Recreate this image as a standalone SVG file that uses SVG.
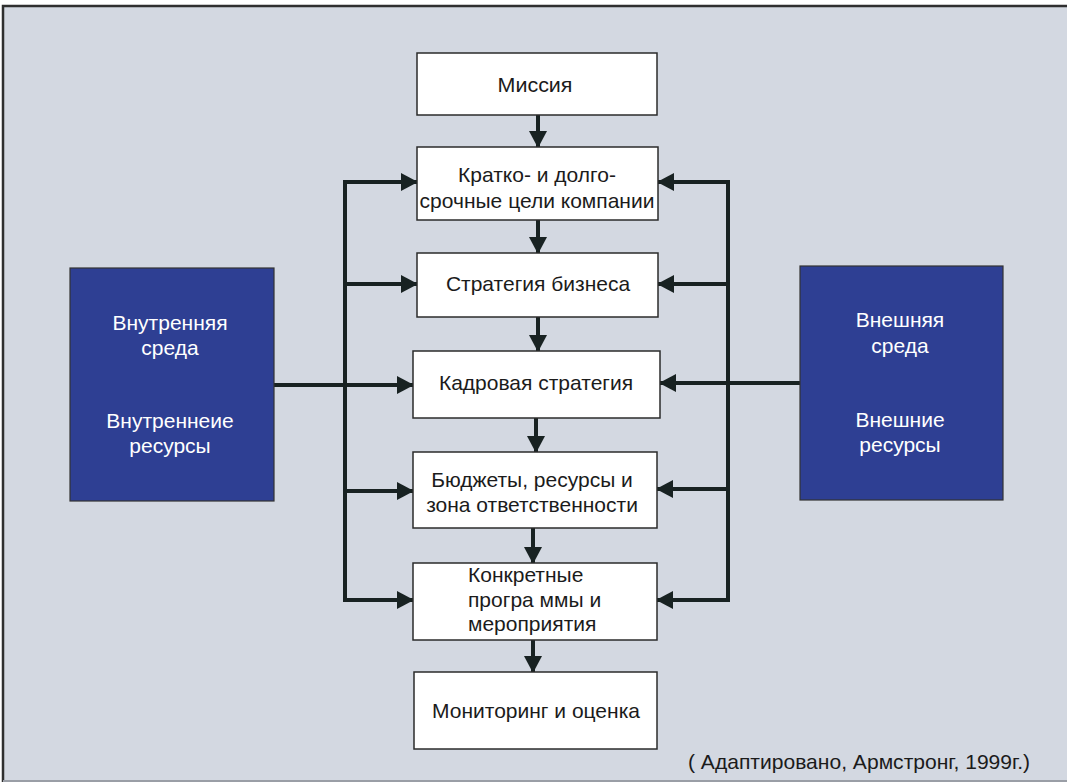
<svg xmlns="http://www.w3.org/2000/svg" width="1067" height="783" viewBox="0 0 1067 783">
<style>
.box{fill:#ffffff;stroke:#2b2b2b;stroke-width:1.5}
.env{fill:#2e3f93;stroke:#333;stroke-width:1.2}
.t{font-family:"Liberation Sans",Arial,sans-serif;font-size:21px;fill:#1b1b1b;text-anchor:middle}
.w{font-family:"Liberation Sans",Arial,sans-serif;font-size:21px;fill:#ffffff;text-anchor:middle}
.c{stroke:#182222;stroke-width:4;fill:none}
</style>
<defs>
<marker id="ah" markerUnits="userSpaceOnUse" markerWidth="17" markerHeight="18" refX="16" refY="9" orient="auto">
<path d="M0,0 L17,9 L0,18 Z" fill="#182222"/>
</marker>
</defs>
<rect x="3" y="6" width="1070" height="775" fill="#d3d8e1"/>
<path d="M3,782 V6 H1067" fill="none" stroke="#2f2f2f" stroke-width="2.5"/>
<path d="M3,781 H1067" fill="none" stroke="#9a9ea6" stroke-width="2"/>
<g id="connectors">
<path class="c" d="M538,115 V147" marker-end="url(#ah)"/>
<path class="c" d="M538,220 V253" marker-end="url(#ah)"/>
<path class="c" d="M538,317 V351" marker-end="url(#ah)"/>
<path class="c" d="M536,418 V452" marker-end="url(#ah)"/>
<path class="c" d="M533,528 V563" marker-end="url(#ah)"/>
<path class="c" d="M533,640 V672" marker-end="url(#ah)"/>
<path class="c" d="M345,180 V600"/>
<path class="c" d="M343,182 H417" marker-end="url(#ah)"/>
<path class="c" d="M345,284 H417" marker-end="url(#ah)"/>
<path class="c" d="M345,491 H413" marker-end="url(#ah)"/>
<path class="c" d="M343,600 H413" marker-end="url(#ah)"/>
<path class="c" d="M274,385 H413" marker-end="url(#ah)"/>
<path class="c" d="M728,180 V602"/>
<path class="c" d="M730,182 H658" marker-end="url(#ah)"/>
<path class="c" d="M728,284 H658" marker-end="url(#ah)"/>
<path class="c" d="M728,489 H657" marker-end="url(#ah)"/>
<path class="c" d="M730,600 H657" marker-end="url(#ah)"/>
<path class="c" d="M800,383 H660" marker-end="url(#ah)"/>
</g>
<g id="mission">
<rect class="box" x="417" y="53" width="240" height="62"/>
<text class="t" x="535" y="92" textLength="75" lengthAdjust="spacingAndGlyphs">Миссия</text>
</g>
<g id="goals">
<rect class="box" x="417" y="147" width="241" height="73"/>
<text class="t" x="537" y="182">Кратко- и долго-</text>
<text class="t" x="537" y="208">срочные цели компании</text>
</g>
<g id="business">
<rect class="box" x="417" y="253" width="241" height="64"/>
<text class="t" x="538" y="291">Стратегия бизнеса</text>
</g>
<g id="hr">
<rect class="box" x="413" y="351" width="247" height="67"/>
<text class="t" x="536" y="390">Кадровая стратегия</text>
</g>
<g id="budgets">
<rect class="box" x="413" y="452" width="244" height="76"/>
<text class="t" x="532" y="487">Бюджеты, ресурсы и</text>
<text class="t" x="532" y="512">зона ответственности</text>
</g>
<g id="programs">
<rect class="box" x="413" y="563" width="244" height="77"/>
<text class="t" x="468" y="582" style="text-anchor:start">Конкретные</text>
<text class="t" x="468" y="607" style="text-anchor:start">програ ммы и</text>
<text class="t" x="468" y="631" style="text-anchor:start">мероприятия</text>
</g>
<g id="monitoring">
<rect class="box" x="414" y="672" width="243" height="77"/>
<text class="t" x="536" y="718" textLength="208" lengthAdjust="spacingAndGlyphs">Мониторинг и оценка</text>
</g>
<g id="internal">
<rect class="env" x="70" y="268" width="204" height="233"/>
<text class="w" x="170" y="330">Внутренняя</text>
<text class="w" x="170" y="355">среда</text>
<text class="w" x="170" y="428">Внутреннеие</text>
<text class="w" x="170" y="453">ресурсы</text>
</g>
<g id="external">
<rect class="env" x="800" y="266" width="203" height="234"/>
<text class="w" x="900" y="327">Внешняя</text>
<text class="w" x="900" y="353">среда</text>
<text class="w" x="900" y="427">Внешние</text>
<text class="w" x="900" y="452">ресурсы</text>
</g>
<text class="t" x="688" y="769" style="text-anchor:start" textLength="342" lengthAdjust="spacingAndGlyphs">( Адаптировано, Армстронг, 1999г.)</text>
</svg>
